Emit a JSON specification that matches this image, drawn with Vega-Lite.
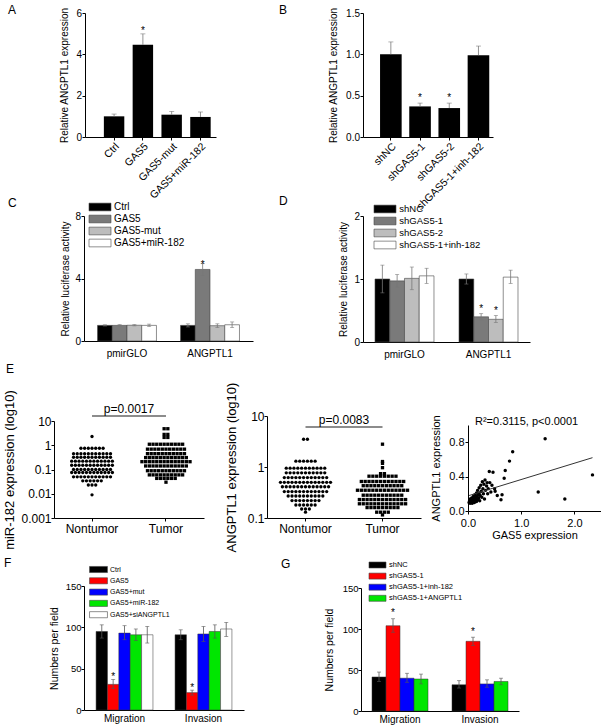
{
"$schema":"https://vega.github.io/schema/vega-lite/v6.json",
"background":"white",
"padding":{"left":3,"top":4,"right":0,"bottom":0},
"columns":3,
"spacing":{"row":68,"column":0},
"bounds":"flush",
"align":"none",
"resolve":{"scale":{"fill":"independent","shape":"independent"},"legend":{"fill":"independent","shape":"independent"}},
"config":{
 "view":{"stroke":null},
 "font":"Liberation Sans",
 "axis":{"domainColor":"#000","tickColor":"#000","labelColor":"#000","titleColor":"#000","grid":false,"tickSize":3,"labelFont":"Liberation Sans","titleFont":"Liberation Sans","titleFontWeight":"normal","labelFontSize":10,"titleFontSize":10,"labelPadding":0.5,"labelOverlap":false,"labelFlush":false},
 "legend":{"labelFont":"Liberation Sans","labelColor":"#000","padding":0,"symbolStrokeColor":"#444","symbolStrokeWidth":0.6,"symbolOpacity":1},
 "title":{"font":"Liberation Sans","fontSize":12,"fontWeight":"normal","anchor":"start","frame":"group","color":"#000","offset":0},
 "text":{"font":"Liberation Sans","color":"#000"}
},
"datasets":{
 "a":[{"cond":"Ctrl","v":1.0,"hi":1.11},{"cond":"GAS5","v":4.46,"hi":4.99,"sig":"*"},{"cond":"GAS5-mut","v":1.08,"hi":1.24},{"cond":"GAS5+miR-182","v":0.97,"hi":1.21}],
 "b":[{"cond":"shNC","v":1.0,"hi":1.15},{"cond":"shGAS5-1","v":0.37,"hi":0.41,"sig":"*"},{"cond":"shGAS5-2","v":0.35,"hi":0.41,"sig":"*"},{"cond":"shGAS5-1+inh-182","v":0.99,"hi":1.1}],
 "c":[{"grp":"pmirGLO","cond":"Ctrl","v":1.0,"lo":0.96,"hi":1.04},{"grp":"pmirGLO","cond":"GAS5","v":1.0,"lo":0.95,"hi":1.05},{"grp":"pmirGLO","cond":"GAS5-mut","v":1.01,"lo":0.97,"hi":1.05},{"grp":"pmirGLO","cond":"GAS5+miR-182","v":1.0,"lo":0.92,"hi":1.08},{"grp":"ANGPTL1","cond":"Ctrl","v":1.0,"lo":0.9,"hi":1.1},{"grp":"ANGPTL1","cond":"GAS5","v":4.58,"lo":4.2,"hi":4.95,"sig":"*"},{"grp":"ANGPTL1","cond":"GAS5-mut","v":0.98,"lo":0.86,"hi":1.1},{"grp":"ANGPTL1","cond":"GAS5+miR-182","v":1.04,"lo":0.86,"hi":1.22}],
 "d":[{"grp":"pmirGLO","cond":"shNC","v":1.0,"lo":0.78,"hi":1.22},{"grp":"pmirGLO","cond":"shGAS5-1","v":0.97,"lo":0.87,"hi":1.07},{"grp":"pmirGLO","cond":"shGAS5-2","v":1.01,"lo":0.83,"hi":1.19},{"grp":"pmirGLO","cond":"shGAS5-1+inh-182","v":1.05,"lo":0.93,"hi":1.17},{"grp":"ANGPTL1","cond":"shNC","v":1.0,"lo":0.92,"hi":1.08},{"grp":"ANGPTL1","cond":"shGAS5-1","v":0.4,"lo":0.35,"hi":0.45,"sig":"*"},{"grp":"ANGPTL1","cond":"shGAS5-2","v":0.36,"lo":0.31,"hi":0.42,"sig":"*"},{"grp":"ANGPTL1","cond":"shGAS5-1+inh-182","v":1.03,"lo":0.93,"hi":1.14}],
 "f":[{"grp":"Migration","cond":"Ctrl","v":95,"lo":87,"hi":103},{"grp":"Migration","cond":"GAS5","v":31,"lo":26,"hi":37,"sig":"*"},{"grp":"Migration","cond":"GAS5+mut","v":93,"lo":85,"hi":102},{"grp":"Migration","cond":"GAS5+miR-182","v":91,"lo":84,"hi":98},{"grp":"Migration","cond":"GAS5+siANGPTL1","v":91,"lo":81,"hi":101},{"grp":"Invasion","cond":"Ctrl","v":91,"lo":85,"hi":97},{"grp":"Invasion","cond":"GAS5","v":21,"lo":18,"hi":24,"sig":"*"},{"grp":"Invasion","cond":"GAS5+mut","v":92,"lo":83,"hi":101},{"grp":"Invasion","cond":"GAS5+miR-182","v":95,"lo":87,"hi":103},{"grp":"Invasion","cond":"GAS5+siANGPTL1","v":98,"lo":89,"hi":106}],
 "g":[{"grp":"Migration","cond":"shNC","v":41.5,"lo":36,"hi":47.5},{"grp":"Migration","cond":"shGAS5-1","v":104,"lo":96,"hi":112.5,"sig":"*"},{"grp":"Migration","cond":"shGAS5-1+inh-182","v":40,"lo":35,"hi":46},{"grp":"Migration","cond":"shGAS5-1+ANGPTL1","v":39,"lo":33,"hi":45},{"grp":"Invasion","cond":"shNC","v":32,"lo":28,"hi":37},{"grp":"Invasion","cond":"shGAS5-1","v":85,"lo":80,"hi":90,"sig":"*"},{"grp":"Invasion","cond":"shGAS5-1+inh-182","v":33,"lo":29,"hi":38},{"grp":"Invasion","cond":"shGAS5-1+ANGPTL1","v":36,"lo":32,"hi":40}],
 "e1":[
{"g":"Nontumor","v":2.3},
{"g":"Nontumor","v":0.75},{"g":"Nontumor","v":0.75},{"g":"Nontumor","v":0.75},{"g":"Nontumor","v":0.75},{"g":"Nontumor","v":0.75},{"g":"Nontumor","v":0.75},{"g":"Nontumor","v":0.75},
{"g":"Nontumor","v":0.45},{"g":"Nontumor","v":0.45},{"g":"Nontumor","v":0.45},{"g":"Nontumor","v":0.45},{"g":"Nontumor","v":0.45},{"g":"Nontumor","v":0.45},{"g":"Nontumor","v":0.45},{"g":"Nontumor","v":0.45},{"g":"Nontumor","v":0.45},{"g":"Nontumor","v":0.45},{"g":"Nontumor","v":0.45},
{"g":"Nontumor","v":0.32},{"g":"Nontumor","v":0.32},{"g":"Nontumor","v":0.32},{"g":"Nontumor","v":0.32},{"g":"Nontumor","v":0.32},{"g":"Nontumor","v":0.32},{"g":"Nontumor","v":0.32},{"g":"Nontumor","v":0.32},{"g":"Nontumor","v":0.32},{"g":"Nontumor","v":0.32},{"g":"Nontumor","v":0.32},
{"g":"Nontumor","v":0.22},{"g":"Nontumor","v":0.22},{"g":"Nontumor","v":0.22},{"g":"Nontumor","v":0.22},{"g":"Nontumor","v":0.22},{"g":"Nontumor","v":0.22},{"g":"Nontumor","v":0.22},{"g":"Nontumor","v":0.22},{"g":"Nontumor","v":0.22},{"g":"Nontumor","v":0.22},{"g":"Nontumor","v":0.22},{"g":"Nontumor","v":0.22},
{"g":"Nontumor","v":0.15},{"g":"Nontumor","v":0.15},{"g":"Nontumor","v":0.15},{"g":"Nontumor","v":0.15},{"g":"Nontumor","v":0.15},{"g":"Nontumor","v":0.15},{"g":"Nontumor","v":0.15},{"g":"Nontumor","v":0.15},{"g":"Nontumor","v":0.15},{"g":"Nontumor","v":0.15},{"g":"Nontumor","v":0.15},{"g":"Nontumor","v":0.15},
{"g":"Nontumor","v":0.1},{"g":"Nontumor","v":0.1},{"g":"Nontumor","v":0.1},{"g":"Nontumor","v":0.1},{"g":"Nontumor","v":0.1},{"g":"Nontumor","v":0.1},{"g":"Nontumor","v":0.1},{"g":"Nontumor","v":0.1},{"g":"Nontumor","v":0.1},{"g":"Nontumor","v":0.1},{"g":"Nontumor","v":0.1},
{"g":"Nontumor","v":0.075},{"g":"Nontumor","v":0.075},{"g":"Nontumor","v":0.075},{"g":"Nontumor","v":0.075},{"g":"Nontumor","v":0.075},{"g":"Nontumor","v":0.075},{"g":"Nontumor","v":0.075},{"g":"Nontumor","v":0.075},{"g":"Nontumor","v":0.075},{"g":"Nontumor","v":0.075},{"g":"Nontumor","v":0.075},{"g":"Nontumor","v":0.075},
{"g":"Nontumor","v":0.05},{"g":"Nontumor","v":0.05},{"g":"Nontumor","v":0.05},{"g":"Nontumor","v":0.05},{"g":"Nontumor","v":0.05},{"g":"Nontumor","v":0.05},{"g":"Nontumor","v":0.05},{"g":"Nontumor","v":0.05},{"g":"Nontumor","v":0.05},{"g":"Nontumor","v":0.05},{"g":"Nontumor","v":0.05},
{"g":"Nontumor","v":0.034},{"g":"Nontumor","v":0.034},{"g":"Nontumor","v":0.034},{"g":"Nontumor","v":0.034},{"g":"Nontumor","v":0.034},{"g":"Nontumor","v":0.034},
{"g":"Nontumor","v":0.023},{"g":"Nontumor","v":0.023},{"g":"Nontumor","v":0.023},
{"g":"Nontumor","v":0.009},
{"g":"Tumor","v":4.8},{"g":"Tumor","v":4.8},
{"g":"Tumor","v":2.8},{"g":"Tumor","v":2.8},
{"g":"Tumor","v":2.1},{"g":"Tumor","v":2.1},
{"g":"Tumor","v":1.1},{"g":"Tumor","v":1.1},{"g":"Tumor","v":1.1},{"g":"Tumor","v":1.1},{"g":"Tumor","v":1.1},{"g":"Tumor","v":1.1},{"g":"Tumor","v":1.1},{"g":"Tumor","v":1.1},{"g":"Tumor","v":1.1},{"g":"Tumor","v":1.1},
{"g":"Tumor","v":0.69},{"g":"Tumor","v":0.69},{"g":"Tumor","v":0.69},{"g":"Tumor","v":0.69},{"g":"Tumor","v":0.69},{"g":"Tumor","v":0.69},{"g":"Tumor","v":0.69},{"g":"Tumor","v":0.69},{"g":"Tumor","v":0.69},{"g":"Tumor","v":0.69},{"g":"Tumor","v":0.69},
{"g":"Tumor","v":0.45},{"g":"Tumor","v":0.45},{"g":"Tumor","v":0.45},{"g":"Tumor","v":0.45},{"g":"Tumor","v":0.45},{"g":"Tumor","v":0.45},{"g":"Tumor","v":0.45},{"g":"Tumor","v":0.45},{"g":"Tumor","v":0.45},{"g":"Tumor","v":0.45},{"g":"Tumor","v":0.45},
{"g":"Tumor","v":0.31},{"g":"Tumor","v":0.31},{"g":"Tumor","v":0.31},{"g":"Tumor","v":0.31},{"g":"Tumor","v":0.31},{"g":"Tumor","v":0.31},{"g":"Tumor","v":0.31},{"g":"Tumor","v":0.31},{"g":"Tumor","v":0.31},{"g":"Tumor","v":0.31},{"g":"Tumor","v":0.31},{"g":"Tumor","v":0.31},
{"g":"Tumor","v":0.21},{"g":"Tumor","v":0.21},{"g":"Tumor","v":0.21},{"g":"Tumor","v":0.21},{"g":"Tumor","v":0.21},{"g":"Tumor","v":0.21},{"g":"Tumor","v":0.21},{"g":"Tumor","v":0.21},{"g":"Tumor","v":0.21},{"g":"Tumor","v":0.21},{"g":"Tumor","v":0.21},{"g":"Tumor","v":0.21},{"g":"Tumor","v":0.21},{"g":"Tumor","v":0.21},
{"g":"Tumor","v":0.14},{"g":"Tumor","v":0.14},{"g":"Tumor","v":0.14},{"g":"Tumor","v":0.14},{"g":"Tumor","v":0.14},{"g":"Tumor","v":0.14},{"g":"Tumor","v":0.14},{"g":"Tumor","v":0.14},{"g":"Tumor","v":0.14},{"g":"Tumor","v":0.14},{"g":"Tumor","v":0.14},{"g":"Tumor","v":0.14},
{"g":"Tumor","v":0.089},{"g":"Tumor","v":0.089},{"g":"Tumor","v":0.089},{"g":"Tumor","v":0.089},{"g":"Tumor","v":0.089},{"g":"Tumor","v":0.089},{"g":"Tumor","v":0.089},{"g":"Tumor","v":0.089},{"g":"Tumor","v":0.089},{"g":"Tumor","v":0.089},{"g":"Tumor","v":0.089},
{"g":"Tumor","v":0.06},{"g":"Tumor","v":0.06},{"g":"Tumor","v":0.06},{"g":"Tumor","v":0.06},{"g":"Tumor","v":0.06},{"g":"Tumor","v":0.06},{"g":"Tumor","v":0.06},{"g":"Tumor","v":0.06},{"g":"Tumor","v":0.06},{"g":"Tumor","v":0.06},
{"g":"Tumor","v":0.043},{"g":"Tumor","v":0.043},{"g":"Tumor","v":0.043},{"g":"Tumor","v":0.043},{"g":"Tumor","v":0.043},{"g":"Tumor","v":0.043},
{"g":"Tumor","v":0.03}
 ],
 "e2":[
{"g":"Nontumor","v":3.5},{"g":"Nontumor","v":3.5},
{"g":"Nontumor","v":1.3},{"g":"Nontumor","v":1.3},{"g":"Nontumor","v":1.3},{"g":"Nontumor","v":1.3},{"g":"Nontumor","v":1.3},{"g":"Nontumor","v":1.3},
{"g":"Nontumor","v":0.95},{"g":"Nontumor","v":0.95},{"g":"Nontumor","v":0.95},{"g":"Nontumor","v":0.95},{"g":"Nontumor","v":0.95},{"g":"Nontumor","v":0.95},{"g":"Nontumor","v":0.95},{"g":"Nontumor","v":0.95},{"g":"Nontumor","v":0.95},{"g":"Nontumor","v":0.95},{"g":"Nontumor","v":0.95},
{"g":"Nontumor","v":0.77},{"g":"Nontumor","v":0.77},{"g":"Nontumor","v":0.77},{"g":"Nontumor","v":0.77},{"g":"Nontumor","v":0.77},{"g":"Nontumor","v":0.77},{"g":"Nontumor","v":0.77},{"g":"Nontumor","v":0.77},{"g":"Nontumor","v":0.77},{"g":"Nontumor","v":0.77},{"g":"Nontumor","v":0.77},
{"g":"Nontumor","v":0.62},{"g":"Nontumor","v":0.62},{"g":"Nontumor","v":0.62},{"g":"Nontumor","v":0.62},{"g":"Nontumor","v":0.62},{"g":"Nontumor","v":0.62},{"g":"Nontumor","v":0.62},{"g":"Nontumor","v":0.62},{"g":"Nontumor","v":0.62},{"g":"Nontumor","v":0.62},{"g":"Nontumor","v":0.62},{"g":"Nontumor","v":0.62},
{"g":"Nontumor","v":0.5},{"g":"Nontumor","v":0.5},{"g":"Nontumor","v":0.5},{"g":"Nontumor","v":0.5},{"g":"Nontumor","v":0.5},{"g":"Nontumor","v":0.5},{"g":"Nontumor","v":0.5},{"g":"Nontumor","v":0.5},{"g":"Nontumor","v":0.5},{"g":"Nontumor","v":0.5},{"g":"Nontumor","v":0.5},{"g":"Nontumor","v":0.5},{"g":"Nontumor","v":0.5},{"g":"Nontumor","v":0.5},
{"g":"Nontumor","v":0.41},{"g":"Nontumor","v":0.41},{"g":"Nontumor","v":0.41},{"g":"Nontumor","v":0.41},{"g":"Nontumor","v":0.41},{"g":"Nontumor","v":0.41},{"g":"Nontumor","v":0.41},{"g":"Nontumor","v":0.41},{"g":"Nontumor","v":0.41},{"g":"Nontumor","v":0.41},{"g":"Nontumor","v":0.41},{"g":"Nontumor","v":0.41},{"g":"Nontumor","v":0.41},
{"g":"Nontumor","v":0.33},{"g":"Nontumor","v":0.33},{"g":"Nontumor","v":0.33},{"g":"Nontumor","v":0.33},{"g":"Nontumor","v":0.33},{"g":"Nontumor","v":0.33},{"g":"Nontumor","v":0.33},{"g":"Nontumor","v":0.33},{"g":"Nontumor","v":0.33},{"g":"Nontumor","v":0.33},{"g":"Nontumor","v":0.33},{"g":"Nontumor","v":0.33},
{"g":"Nontumor","v":0.27},{"g":"Nontumor","v":0.27},{"g":"Nontumor","v":0.27},{"g":"Nontumor","v":0.27},{"g":"Nontumor","v":0.27},{"g":"Nontumor","v":0.27},{"g":"Nontumor","v":0.27},{"g":"Nontumor","v":0.27},{"g":"Nontumor","v":0.27},{"g":"Nontumor","v":0.27},
{"g":"Nontumor","v":0.22},{"g":"Nontumor","v":0.22},{"g":"Nontumor","v":0.22},{"g":"Nontumor","v":0.22},{"g":"Nontumor","v":0.22},{"g":"Nontumor","v":0.22},{"g":"Nontumor","v":0.22},{"g":"Nontumor","v":0.22},
{"g":"Nontumor","v":0.18},{"g":"Nontumor","v":0.18},{"g":"Nontumor","v":0.18},{"g":"Nontumor","v":0.18},{"g":"Nontumor","v":0.18},{"g":"Nontumor","v":0.18},
{"g":"Nontumor","v":0.15},{"g":"Nontumor","v":0.15},{"g":"Nontumor","v":0.15},
{"g":"Nontumor","v":0.13},
{"g":"Tumor","v":2.8},{"g":"Tumor","v":1.28},{"g":"Tumor","v":1.18},{"g":"Tumor","v":0.97},
{"g":"Tumor","v":0.74},{"g":"Tumor","v":0.74},
{"g":"Tumor","v":0.66},{"g":"Tumor","v":0.66},{"g":"Tumor","v":0.66},{"g":"Tumor","v":0.66},{"g":"Tumor","v":0.66},{"g":"Tumor","v":0.66},{"g":"Tumor","v":0.66},{"g":"Tumor","v":0.66},
{"g":"Tumor","v":0.52},{"g":"Tumor","v":0.52},{"g":"Tumor","v":0.52},{"g":"Tumor","v":0.52},{"g":"Tumor","v":0.52},{"g":"Tumor","v":0.52},{"g":"Tumor","v":0.52},{"g":"Tumor","v":0.52},{"g":"Tumor","v":0.52},{"g":"Tumor","v":0.52},{"g":"Tumor","v":0.52},{"g":"Tumor","v":0.52},
{"g":"Tumor","v":0.43},{"g":"Tumor","v":0.43},{"g":"Tumor","v":0.43},{"g":"Tumor","v":0.43},{"g":"Tumor","v":0.43},{"g":"Tumor","v":0.43},{"g":"Tumor","v":0.43},{"g":"Tumor","v":0.43},{"g":"Tumor","v":0.43},{"g":"Tumor","v":0.43},{"g":"Tumor","v":0.43},
{"g":"Tumor","v":0.35},{"g":"Tumor","v":0.35},{"g":"Tumor","v":0.35},{"g":"Tumor","v":0.35},{"g":"Tumor","v":0.35},{"g":"Tumor","v":0.35},{"g":"Tumor","v":0.35},{"g":"Tumor","v":0.35},{"g":"Tumor","v":0.35},{"g":"Tumor","v":0.35},{"g":"Tumor","v":0.35},{"g":"Tumor","v":0.35},{"g":"Tumor","v":0.35},{"g":"Tumor","v":0.35},
{"g":"Tumor","v":0.28},{"g":"Tumor","v":0.28},{"g":"Tumor","v":0.28},{"g":"Tumor","v":0.28},{"g":"Tumor","v":0.28},{"g":"Tumor","v":0.28},{"g":"Tumor","v":0.28},{"g":"Tumor","v":0.28},{"g":"Tumor","v":0.28},{"g":"Tumor","v":0.28},{"g":"Tumor","v":0.28},
{"g":"Tumor","v":0.23},{"g":"Tumor","v":0.23},{"g":"Tumor","v":0.23},{"g":"Tumor","v":0.23},{"g":"Tumor","v":0.23},{"g":"Tumor","v":0.23},{"g":"Tumor","v":0.23},{"g":"Tumor","v":0.23},{"g":"Tumor","v":0.23},{"g":"Tumor","v":0.23},{"g":"Tumor","v":0.23},{"g":"Tumor","v":0.23},{"g":"Tumor","v":0.23},
{"g":"Tumor","v":0.19},{"g":"Tumor","v":0.19},{"g":"Tumor","v":0.19},{"g":"Tumor","v":0.19},{"g":"Tumor","v":0.19},{"g":"Tumor","v":0.19},{"g":"Tumor","v":0.19},{"g":"Tumor","v":0.19},{"g":"Tumor","v":0.19},{"g":"Tumor","v":0.19},{"g":"Tumor","v":0.19},{"g":"Tumor","v":0.19},{"g":"Tumor","v":0.19},
{"g":"Tumor","v":0.16},{"g":"Tumor","v":0.16},{"g":"Tumor","v":0.16},{"g":"Tumor","v":0.16},{"g":"Tumor","v":0.16},{"g":"Tumor","v":0.16},{"g":"Tumor","v":0.16},{"g":"Tumor","v":0.16},{"g":"Tumor","v":0.16},
{"g":"Tumor","v":0.13},{"g":"Tumor","v":0.13},{"g":"Tumor","v":0.13},{"g":"Tumor","v":0.13},
{"g":"Tumor","v":0.115}
 ],
 "e3":[{"gas5":0.02,"angptl1":0.10},{"gas5":0.03,"angptl1":0.12},{"gas5":0.04,"angptl1":0.09},{"gas5":0.04,"angptl1":0.14},{"gas5":0.05,"angptl1":0.11},{"gas5":0.06,"angptl1":0.13},{"gas5":0.06,"angptl1":0.10},{"gas5":0.07,"angptl1":0.15},{"gas5":0.08,"angptl1":0.12},{"gas5":0.08,"angptl1":0.09},{"gas5":0.09,"angptl1":0.14},{"gas5":0.10,"angptl1":0.11},{"gas5":0.10,"angptl1":0.17},{"gas5":0.11,"angptl1":0.13},{"gas5":0.12,"angptl1":0.15},{"gas5":0.12,"angptl1":0.10},{"gas5":0.13,"angptl1":0.19},{"gas5":0.14,"angptl1":0.12},{"gas5":0.14,"angptl1":0.16},{"gas5":0.15,"angptl1":0.14},{"gas5":0.16,"angptl1":0.21},{"gas5":0.16,"angptl1":0.11},{"gas5":0.17,"angptl1":0.17},{"gas5":0.18,"angptl1":0.13},{"gas5":0.18,"angptl1":0.24},{"gas5":0.19,"angptl1":0.19},{"gas5":0.20,"angptl1":0.15},{"gas5":0.21,"angptl1":0.27},{"gas5":0.21,"angptl1":0.21},{"gas5":0.22,"angptl1":0.12},{"gas5":0.23,"angptl1":0.18},{"gas5":0.24,"angptl1":0.30},{"gas5":0.25,"angptl1":0.23},{"gas5":0.26,"angptl1":0.16},{"gas5":0.27,"angptl1":0.34},{"gas5":0.28,"angptl1":0.26},{"gas5":0.29,"angptl1":0.20},{"gas5":0.30,"angptl1":0.31},{"gas5":0.31,"angptl1":0.14},{"gas5":0.32,"angptl1":0.36},{"gas5":0.33,"angptl1":0.24},{"gas5":0.35,"angptl1":0.29},{"gas5":0.36,"angptl1":0.33},{"gas5":0.37,"angptl1":0.20},{"gas5":0.38,"angptl1":0.26},{"gas5":0.40,"angptl1":0.46},{"gas5":0.41,"angptl1":0.33},{"gas5":0.43,"angptl1":0.22},{"gas5":0.45,"angptl1":0.30},{"gas5":0.47,"angptl1":0.45},{"gas5":0.50,"angptl1":0.26},{"gas5":0.51,"angptl1":0.23},{"gas5":0.55,"angptl1":0.18},{"gas5":0.62,"angptl1":0.13},{"gas5":0.64,"angptl1":0.19},{"gas5":0.68,"angptl1":0.38},{"gas5":0.70,"angptl1":0.47},{"gas5":0.78,"angptl1":0.58},{"gas5":0.84,"angptl1":0.69},{"gas5":1.32,"angptl1":0.22},{"gas5":1.45,"angptl1":0.84},{"gas5":1.82,"angptl1":0.14},{"gas5":2.34,"angptl1":0.42}],
 "fit":[{"gas5":0.02,"angptl1":0.18},{"gas5":2.34,"angptl1":0.62}]
},
"concat":[
 {"width":162,"height":124,
  "title":{"text":"A","dx":-46,"dy":14.2},
  "data":{"name":"a"},
  "encoding":{"x":{"field":"cond","type":"nominal","sort":null,"title":null,"scale":{"range":[31,162],"paddingInner":0.29,"paddingOuter":0.42,"align":0.78},"axis":{"labelAngle":-45,"labelAlign":"right","labelBaseline":"top","labelFontSize":10.5,"labelPadding":1}}},
  "layer":[
   {"mark":{"type":"bar","color":"#000"},"encoding":{"y":{"field":"v","type":"quantitative","title":"Relative ANGPTL1 expression","scale":{"domain":[0,6],"nice":false},"axis":{"values":[0,2,4,6],"offset":-31,"titlePadding":6.4}}}},
   {"mark":{"type":"rule","color":"#777","strokeWidth":0.8},"encoding":{"y":{"field":"v","type":"quantitative","title":"Relative ANGPTL1 expression"},"y2":{"field":"hi"}}},
   {"mark":{"type":"tick","color":"#777","thickness":0.8,"size":5},"encoding":{"y":{"field":"hi","type":"quantitative","title":"Relative ANGPTL1 expression"}}},
   {"transform":[{"filter":"datum.sig != null"}],"mark":{"type":"text","baseline":"alphabetic","fontSize":10,"dy":0,"color":"#000"},"encoding":{"y":{"field":"hi","type":"quantitative","title":"Relative ANGPTL1 expression"},"text":{"field":"sig"}}}
  ]},
 {"width":201,"height":124,
  "title":{"text":"B","dx":12,"dy":14.2},
  "data":{"name":"b"},
  "encoding":{"x":{"field":"cond","type":"nominal","sort":null,"title":null,"scale":{"range":[96,226],"paddingInner":0.26,"paddingOuter":0.356,"align":0.82},"axis":{"labelAngle":-45,"labelAlign":"right","labelBaseline":"top","labelFontSize":10.5,"labelPadding":1}}},
  "layer":[
   {"mark":{"type":"bar","color":"#000"},"encoding":{"y":{"field":"v","type":"quantitative","title":"Relative ANGPTL1 expression","scale":{"domain":[0,1.5],"nice":false},"axis":{"values":[0,0.5,1,1.5],"format":".1f","offset":-96,"titlePadding":6.6}}}},
   {"mark":{"type":"rule","color":"#777","strokeWidth":0.8},"encoding":{"y":{"field":"v","type":"quantitative","title":"Relative ANGPTL1 expression"},"y2":{"field":"hi"}}},
   {"mark":{"type":"tick","color":"#777","thickness":0.8,"size":5},"encoding":{"y":{"field":"hi","type":"quantitative","title":"Relative ANGPTL1 expression"}}},
   {"transform":[{"filter":"datum.sig != null"}],"mark":{"type":"text","baseline":"alphabetic","fontSize":10,"dy":-2.6,"color":"#000"},"encoding":{"y":{"field":"hi","type":"quantitative","title":"Relative ANGPTL1 expression"},"text":{"field":"sig"}}}
  ]},
 {"width":1,"height":135,"data":{"values":[]},"mark":"point"},

 {"width":213,"height":125,
  "title":{"text":"C","dx":-46,"dy":11.7},
  "data":{"name":"c"},
  "encoding":{"x":{"field":"grp","type":"nominal","sort":null,"title":null,"scale":{"range":[30,199],"paddingInner":0.29,"paddingOuter":0.163},"axis":{"ticks":false,"labelAngle":0,"labelPadding":7}},
   "xOffset":{"field":"cond","type":"nominal","sort":null,"scale":{"paddingInner":0,"paddingOuter":0}}},
  "layer":[
   {"mark":{"type":"bar","stroke":"#444","strokeWidth":0.6},"encoding":{"y":{"field":"v","type":"quantitative","title":"Relative luciferase activity","scale":{"domain":[0,8],"nice":false},"axis":{"values":[0,2,4,6,8],"offset":-30,"titlePadding":4.4}},
     "fill":{"field":"cond","type":"nominal","sort":null,"scale":{"domain":["Ctrl","GAS5","GAS5-mut","GAS5+miR-182"],"range":["#000000","#7a7a7a","#bdbdbd","#ffffff"]},"legend":{"title":null,"orient":"none","legendX":41,"legendY":-14,"labelFontSize":10,"symbolType":"M-2.345,-0.82L2.345,-0.82L2.345,0.82L-2.345,0.82Z","symbolSize":88,"rowPadding":0,"labelOffset":9}}}},
   {"mark":{"type":"rule","color":"#777","strokeWidth":0.8},"encoding":{"y":{"field":"lo","type":"quantitative","title":"Relative luciferase activity"},"y2":{"field":"hi"}}},
   {"mark":{"type":"tick","color":"#777","thickness":0.8,"size":4},"encoding":{"y":{"field":"hi","type":"quantitative","title":"Relative luciferase activity"}}},
   {"mark":{"type":"tick","color":"#777","thickness":0.8,"size":4},"encoding":{"y":{"field":"lo","type":"quantitative","title":"Relative luciferase activity"}}},
   {"transform":[{"filter":"datum.sig != null"}],"mark":{"type":"text","baseline":"alphabetic","fontSize":10,"dy":4,"color":"#000"},"encoding":{"y":{"field":"hi","type":"quantitative","title":"Relative luciferase activity"},"text":{"field":"sig"}}}
  ]},
 {"width":201,"height":126,
  "title":{"text":"D","dx":12,"dy":8.45},
  "data":{"name":"d"},
  "encoding":{"x":{"field":"grp","type":"nominal","sort":null,"title":null,"scale":{"range":[96,263],"paddingInner":0.298,"paddingOuter":0.143},"axis":{"ticks":false,"labelAngle":0,"labelPadding":7}},
   "xOffset":{"field":"cond","type":"nominal","sort":null,"scale":{"paddingInner":0,"paddingOuter":0}}},
  "layer":[
   {"mark":{"type":"bar","stroke":"#444","strokeWidth":0.6},"encoding":{"y":{"field":"v","type":"quantitative","title":"Relative luciferase activity","scale":{"domain":[0,2],"nice":false},"axis":{"values":[0,0.5,1,1.5,2],"format":"~g","labelExpr":"datum.value % 1 ? '' : datum.label","offset":-96,"titlePadding":5.4}},
     "fill":{"field":"cond","type":"nominal","sort":null,"scale":{"domain":["shNC","shGAS5-1","shGAS5-2","shGAS5-1+inh-182"],"range":["#000000","#7a7a7a","#bdbdbd","#ffffff"]},"legend":{"title":null,"orient":"none","legendX":113,"legendY":-12,"labelFontSize":9.5,"symbolType":"M-2.345,-0.82L2.345,-0.82L2.345,0.82L-2.345,0.82Z","symbolSize":88,"rowPadding":0,"labelOffset":9.3}}}},
   {"mark":{"type":"rule","color":"#777","strokeWidth":0.8},"encoding":{"y":{"field":"lo","type":"quantitative","title":"Relative luciferase activity"},"y2":{"field":"hi"}}},
   {"mark":{"type":"tick","color":"#777","thickness":0.8,"size":4},"encoding":{"y":{"field":"hi","type":"quantitative","title":"Relative luciferase activity"}}},
   {"mark":{"type":"tick","color":"#777","thickness":0.8,"size":4},"encoding":{"y":{"field":"lo","type":"quantitative","title":"Relative luciferase activity"}}},
   {"transform":[{"filter":"datum.sig != null"}],"mark":{"type":"text","baseline":"alphabetic","fontSize":10,"dy":-2,"color":"#000"},"encoding":{"y":{"field":"hi","type":"quantitative","title":"Relative luciferase activity"},"text":{"field":"sig"}}}
  ]},
 {"width":1,"height":132,"data":{"values":[]},"mark":"point"},

 {"width":150,"height":102,
  "title":{"text":"E","dx":-48,"dy":-9.5},
  "layer":[
   {"data":{"name":"e1"},
    "transform":[{"window":[{"op":"count","as":"one"}],"frame":[0,0]},{"stack":"one","groupby":["g","v"],"offset":"center","as":["s0","s1"]}],
    "mark":{"type":"point","filled":true,"color":"#000","size":11,"opacity":1,"strokeWidth":0},
    "encoding":{
     "x":{"field":"g","type":"nominal","sort":["Nontumor","Tumor"],"title":null,"scale":{"type":"band","paddingInner":0,"paddingOuter":0.014},"axis":{"labelAngle":0,"labelFontSize":12,"labelPadding":2.7}},
     "xOffset":{"field":"s0","type":"quantitative","scale":{"domain":[-3.5,16.5]}},
     "y":{"field":"v","type":"quantitative","title":"miR-182 expression (log10)","scale":{"type":"log","domain":[0.001,10],"nice":false,"range":[102,5]},"axis":{"values":[0.001,0.01,0.1,1,10],"format":"~g","labelFontSize":12,"titleFontSize":13,"labelPadding":0,"titlePadding":4.5}},
     "shape":{"field":"g","type":"nominal","scale":{"domain":["Nontumor","Tumor"],"range":["circle","square"]},"legend":null}}},
   {"data":{"values":[{}]},"mark":{"type":"rule","color":"#666","strokeWidth":1.5},"encoding":{"x":{"datum":"Nontumor","type":"nominal"},"x2":{"datum":"Tumor"},"y":{"datum":16,"type":"quantitative"}}},
   {"data":{"values":[{}]},"mark":{"type":"text","fontSize":12,"baseline":"alphabetic","dx":37,"dy":-3,"color":"#000"},"encoding":{"x":{"datum":"Nontumor","type":"nominal"},"y":{"datum":16,"type":"quantitative"},"text":{"value":"p=0.0017"}}}
  ]},
 {"width":154,"height":102,
  "layer":[
   {"data":{"name":"e2"},
    "transform":[{"window":[{"op":"count","as":"one"}],"frame":[0,0]},{"stack":"one","groupby":["g","v"],"offset":"center","as":["s0","s1"]}],
    "mark":{"type":"point","filled":true,"color":"#000","size":11,"opacity":1,"strokeWidth":0},
    "encoding":{
     "x":{"field":"g","type":"nominal","sort":["Nontumor","Tumor"],"title":null,"scale":{"type":"band","paddingInner":0,"paddingOuter":0},"axis":{"labelAngle":0,"labelFontSize":12,"labelPadding":2.7}},
     "xOffset":{"field":"s0","type":"quantitative","scale":{"domain":[-3.5,16.5]}},
     "y":{"field":"v","type":"quantitative","title":"ANGPTL1 expression (log10)","scale":{"type":"log","domain":[0.1,10],"nice":false},"axis":{"values":[0.1,1,10],"format":"~g","labelFontSize":12,"titleFontSize":13,"labelPadding":0,"titlePadding":9}},
     "shape":{"field":"g","type":"nominal","scale":{"domain":["Nontumor","Tumor"],"range":["circle","square"]},"legend":null}}},
   {"data":{"values":[{}]},"mark":{"type":"rule","color":"#666","strokeWidth":1.5},"encoding":{"x":{"datum":"Nontumor","type":"nominal"},"x2":{"datum":"Tumor"},"y":{"datum":6.1,"type":"quantitative"}}},
   {"data":{"values":[{}]},"mark":{"type":"text","fontSize":12,"baseline":"alphabetic","dx":38.5,"dy":-3,"color":"#000"},"encoding":{"x":{"datum":"Nontumor","type":"nominal"},"y":{"datum":6.1,"type":"quantitative"},"text":{"value":"p=0.0083"}}}
  ]},
 {"width":133,"height":95,
  "title":{"text":"R²=0.3115, p<0.0001","fontSize":11,"dx":7,"dy":16},
  "layer":[
   {"data":{"name":"e3"},"mark":{"type":"circle","color":"#000","size":12,"opacity":1},
    "encoding":{"x":{"field":"gas5","type":"quantitative","title":"GAS5 expression","scale":{"domain":[0,2.5],"nice":false,"zero":false},"axis":{"values":[0,0.5,1,1.5,2,2.5],"format":".1f","labelFontSize":11,"titleFontSize":11,"labelPadding":3.5,"titlePadding":1}},
     "y":{"field":"angptl1","type":"quantitative","title":"ANGPTL1 expression","scale":{"domain":[0,1],"nice":false,"range":[95,9]},"axis":{"values":[0,0.2,0.4,0.6,0.8,1],"format":".1f","labelFontSize":11,"titleFontSize":11,"labelPadding":1,"titlePadding":6.8}}}},
   {"data":{"name":"fit"},"mark":{"type":"line","color":"#333","strokeWidth":1},"encoding":{"x":{"field":"gas5","type":"quantitative","title":"GAS5 expression"},"y":{"field":"angptl1","type":"quantitative","title":"ANGPTL1 expression"}}}
  ]},

 {"width":190,"height":124,
  "title":{"text":"F","dx":-50,"dy":8.5},
  "data":{"name":"f"},
  "encoding":{"x":{"field":"grp","type":"nominal","sort":null,"title":null,"scale":{"range":[30,190],"paddingInner":0.28,"paddingOuter":0.153},"axis":{"ticks":false,"labelAngle":0,"labelPadding":3,"labelFontSize":10}},
   "xOffset":{"field":"cond","type":"nominal","sort":null,"scale":{"paddingInner":0,"paddingOuter":0}}},
  "layer":[
   {"mark":{"type":"bar","stroke":"#333","strokeWidth":0.5},"encoding":{"y":{"field":"v","type":"quantitative","title":"Numbers per field","scale":{"domain":[0,150],"nice":false},"axis":{"values":[0,50,100,150],"offset":-30,"labelFontSize":9.5,"titleFontSize":10.5,"labelPadding":0,"titlePadding":5.5}},
     "fill":{"field":"cond","type":"nominal","sort":null,"scale":{"domain":["Ctrl","GAS5","GAS5+mut","GAS5+miR-182","GAS5+siANGPTL1"],"range":["#000000","#ff0000","#0000ff","#00e600","#ffffff"]},"legend":{"title":null,"orient":"none","legendX":40.5,"legendY":-20.5,"labelFontSize":7,"symbolType":"M-2.8,-0.95L2.8,-0.95L2.8,0.95L-2.8,0.95Z","symbolSize":41,"rowPadding":1.3,"labelOffset":7.5}}}},
   {"mark":{"type":"rule","color":"#555","strokeWidth":0.8},"encoding":{"y":{"field":"lo","type":"quantitative","title":"Numbers per field"},"y2":{"field":"hi"}}},
   {"mark":{"type":"tick","color":"#555","thickness":0.8,"size":4},"encoding":{"y":{"field":"hi","type":"quantitative","title":"Numbers per field"}}},
   {"mark":{"type":"tick","color":"#555","thickness":0.8,"size":4},"encoding":{"y":{"field":"lo","type":"quantitative","title":"Numbers per field"}}},
   {"transform":[{"filter":"datum.sig != null"}],"mark":{"type":"text","baseline":"alphabetic","fontSize":10,"dy":1,"color":"#000"},"encoding":{"y":{"field":"hi","type":"quantitative","title":"Numbers per field"},"text":{"field":"sig"}}}
  ]},
 {"width":201,"height":125,
  "title":{"text":"G","dx":14,"dy":13.75},
  "data":{"name":"g"},
  "encoding":{"x":{"field":"grp","type":"nominal","sort":null,"title":null,"scale":{"range":[94,252],"paddingInner":0.3,"paddingOuter":0.1375},"axis":{"ticks":false,"labelAngle":0,"labelPadding":3.7,"labelFontSize":10}},
   "xOffset":{"field":"cond","type":"nominal","sort":null,"scale":{"paddingInner":0,"paddingOuter":0}}},
  "layer":[
   {"mark":{"type":"bar","stroke":"#333","strokeWidth":0.5},"encoding":{"y":{"field":"v","type":"quantitative","title":"Numbers per field","scale":{"domain":[0,150],"nice":false,"range":[125,2]},"axis":{"values":[0,50,100,150],"offset":-94,"labelFontSize":9.5,"titleFontSize":10.5,"labelPadding":0,"titlePadding":7.5}},
     "fill":{"field":"cond","type":"nominal","sort":null,"scale":{"domain":["shNC","shGAS5-1","shGAS5-1+inh-182","shGAS5-1+ANGPTL1"],"range":["#000000","#ff0000","#0000ff","#00e600"]},"legend":{"title":null,"orient":"none","legendX":106.5,"legendY":-25,"labelFontSize":7.5,"symbolType":"M-2.48,-0.87L2.48,-0.87L2.48,0.87L-2.48,0.87Z","symbolSize":47,"rowPadding":1.1,"labelOffset":7.5}}}},
   {"mark":{"type":"rule","color":"#555","strokeWidth":0.8},"encoding":{"y":{"field":"lo","type":"quantitative","title":"Numbers per field"},"y2":{"field":"hi"}}},
   {"mark":{"type":"tick","color":"#555","thickness":0.8,"size":4},"encoding":{"y":{"field":"hi","type":"quantitative","title":"Numbers per field"}}},
   {"mark":{"type":"tick","color":"#555","thickness":0.8,"size":4},"encoding":{"y":{"field":"lo","type":"quantitative","title":"Numbers per field"}}},
   {"transform":[{"filter":"datum.sig != null"}],"mark":{"type":"text","baseline":"alphabetic","fontSize":10,"dy":-2.3,"color":"#000"},"encoding":{"y":{"field":"hi","type":"quantitative","title":"Numbers per field"},"text":{"field":"sig"}}}
  ]},
 {"width":1,"height":1,"data":{"values":[]},"mark":"point"}
]
}
